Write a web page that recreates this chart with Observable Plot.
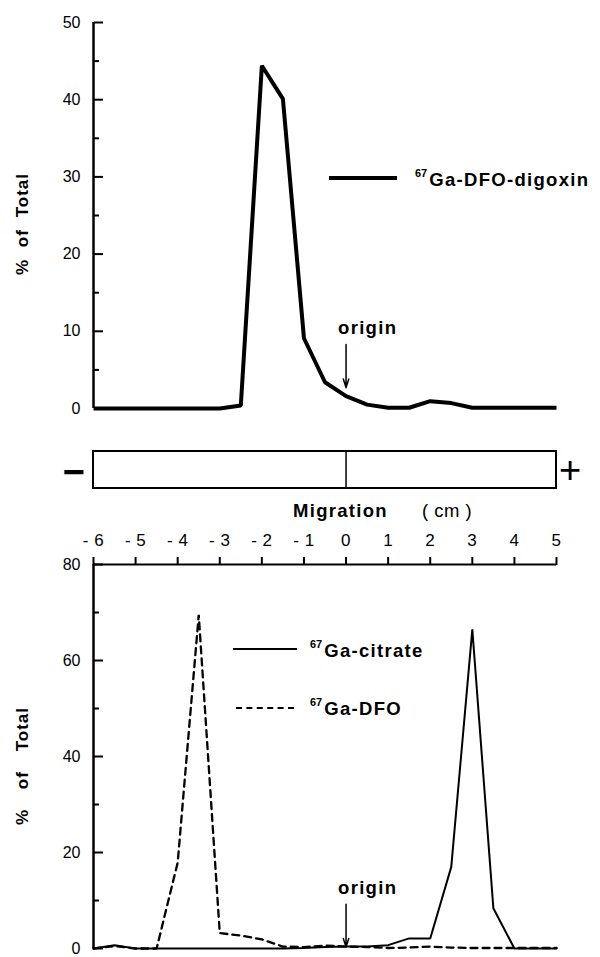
<!DOCTYPE html>
<html><head><meta charset="utf-8">
<script src="https://cdn.jsdelivr.net/npm/d3@7"></script>
<script src="https://cdn.jsdelivr.net/npm/@observablehq/plot@0.6"></script>
<style>
body{margin:0;background:#fff;}
#wrap{position:relative;width:600px;height:957px;overflow:hidden;font-family:"Liberation Sans",Arial,Helvetica,sans-serif;color:#000;background:#fff;}
#wrap svg{display:block;position:absolute;left:0;}
.lbl{position:absolute;white-space:nowrap;line-height:18px;font-size:18.5px;font-weight:bold;letter-spacing:1.3px;}
.lbl sup{font-size:11px;vertical-align:baseline;position:relative;top:-9px;letter-spacing:0;margin-right:2px;}
.rot{position:absolute;white-space:nowrap;font-size:17px;font-weight:bold;line-height:17px;letter-spacing:1px;transform:translate(-50%,-50%) rotate(-90deg);}
g[aria-label="text"] text{letter-spacing:1.3px;}
g[aria-label="x-axis tick label"] text{letter-spacing:0.5px;}
</style></head><body><div id="wrap"></div>
<script>
// Migration distance (cm), sampled every 0.5 cm
const migration = [-6,-5.5,-5,-4.5,-4,-3.5,-3,-2.5,-2,-1.5,-1,-0.5,0,0.5,1,1.5,2,2.5,3,3.5,4,4.5,5];
// % of total activity
const digoxin = [0,0,0,0,0,0,0,0.4,44.4,40.1,9.1,3.4,1.6,0.5,0.1,0.1,0.95,0.7,0.1,0.1,0.1,0.1,0.1];
const citrate = [0,0.7,0,0,0,0,0,0,0,0,0.1,0.3,0.4,0.4,0.7,2.1,2.1,17,66.5,8.4,0,0,0];
const dfo     = [0,0.5,0,0,17.9,69.5,3.2,2.7,1.9,0.4,0.3,0.6,0.4,0.3,0.1,0.2,0.4,0.2,0.1,0.1,0.1,0.1,0.1];

const xTicks = [-6,-5,-4,-3,-2,-1,0,1,2,3,4,5];
const topYMajor = [0,10,20,30,40,50];
const topYMinor = [5,15,25,35,45];
const botYMajor = [0,20,40,60,80];
const botYMinor = [10,30,50,70];

const originTop = [{x: 0, from: 8.3, to: 2.7, labelY: 10.4, label: "origin"}];
const originBot = [{x: 0, from: 9.2, to: 0.3, labelY: 12.5, label: "origin"}];

const digoxinData = migration.map((x, i) => ({x, y: digoxin[i]}));
const citrateData = migration.map((x, i) => ({x, y: citrate[i]}));
const dfoData = migration.map((x, i) => ({x, y: dfo[i]}));
const xMin = xTicks[0], xMax = xTicks[xTicks.length - 1];

const font = {fontFamily: "'Liberation Sans', Arial, Helvetica, sans-serif", fontSize: "16px", background: "white", color: "black"};
const wrap = document.getElementById("wrap");

function yAxes(major, minor) {
  return [
    Plot.ruleX([xMin], {y1: 0, y2: major[major.length - 1], strokeWidth: 2.5}),
    Plot.axisY(major, {anchor: "left", tickSize: 0, tickPadding: 13, fontSize: 16, label: null}),
    Plot.axisY(major, {anchor: "right", frameAnchor: "left", tickSize: 9, strokeWidth: 2, tickFormat: () => "", label: null}),
    Plot.axisY(minor, {anchor: "right", frameAnchor: "left", tickSize: 5, strokeWidth: 2, tickFormat: () => "", label: null})
  ];
}

// top chart
const topPlot = Plot.plot({
  width: 600, height: 445, marginLeft: 93, marginRight: 44, marginTop: 22, marginBottom: 37,
  style: font,
  x: {domain: [xMin, xMax], axis: null},
  y: {domain: [0, 50]},
  marks: [
    ...yAxes(topYMajor, topYMinor),
    Plot.line(digoxinData, {x: "x", y: "y", strokeWidth: 4, strokeLinejoin: "miter", strokeLinecap: "butt"}),
    Plot.arrow(originTop, {x1: "x", x2: "x", y1: "from", y2: "to", headLength: 9, headAngle: 35, strokeWidth: 1.5}),
    Plot.text(originTop, {x: "x", y: "labelY", text: "label", textAnchor: "start", dx: -8, fontWeight: "bold", fontSize: 18.5})
  ]
});
topPlot.style.top = "0px";
wrap.appendChild(topPlot);

// gel strip
const strip = Plot.plot({
  width: 600, height: 50, marginLeft: 93, marginRight: 44, marginTop: 6, marginBottom: 7,
  style: font,
  x: {domain: [xMin, xMax], axis: null},
  marks: [
    Plot.rect([{x1: xMin, x2: xMax}], {x1: "x1", x2: "x2", fill: "none", stroke: "black", strokeWidth: 2}),
    Plot.ruleX([0], {strokeWidth: 1.5}),
    Plot.text(["−"], {frameAnchor: "left", text: d => d, dx: -31, dy: 3, fontSize: 38, fontWeight: "bold"}),
    Plot.text(["+"], {frameAnchor: "right", text: d => d, dx: 26, dy: 1, fontSize: 38})
  ]
});
strip.style.top = "445px";
wrap.appendChild(strip);

// bottom chart
const botPlot = Plot.plot({
  width: 600, height: 462, marginLeft: 93, marginRight: 44, marginTop: 69, marginBottom: 9,
  style: font,
  x: {domain: [xMin, xMax]},
  y: {domain: [0, 80]},
  marks: [
    Plot.ruleY([80], {x1: xMin, x2: xMax, strokeWidth: 2}),
    Plot.axisX(xTicks, {anchor: "top", tickSize: 8, tickPadding: 11, strokeWidth: 2, fontSize: 17, label: null,
      tickFormat: d => d < 0 ? "- " + (-d) : String(d)}),
    ...yAxes(botYMajor, botYMinor),
    Plot.line(citrateData, {x: "x", y: "y", strokeWidth: 2, strokeLinejoin: "miter"}),
    Plot.line(dfoData, {x: "x", y: "y", strokeWidth: 2.3, strokeDasharray: "7,5", strokeLinejoin: "miter"}),
    Plot.arrow(originBot, {x1: "x", x2: "x", y1: "from", y2: "to", headLength: 9, headAngle: 35, strokeWidth: 1.5}),
    Plot.text(originBot, {x: "x", y: "labelY", text: "label", textAnchor: "start", dx: -8, fontWeight: "bold", fontSize: 18.5})
  ]
});
botPlot.style.top = "495px";
wrap.appendChild(botPlot);

// overlay texts & legends
function addHTML(html) { const d = document.createElement("div"); d.innerHTML = html; while (d.firstChild) wrap.appendChild(d.firstChild); }
addHTML(`
<div class="rot" style="left:22px;top:224px;word-spacing:6px;">% of Total</div>
<div class="rot" style="left:22px;top:766px;word-spacing:14px;">% of Total</div>
<div class="lbl" style="left:293px;top:502px;">Migration</div>
<div class="lbl" style="left:422px;top:502px;font-weight:normal;letter-spacing:0.5px;">( cm )</div>
<svg style="left:329px;top:168px" width="70" height="20"><line x1="0" x2="68" y1="10" y2="10" stroke="black" stroke-width="4"/></svg>
<div class="lbl" style="left:415px;top:171px;"><sup>67</sup>Ga-DFO-digoxin</div>
<svg style="left:233px;top:639px" width="70" height="20"><line x1="0" x2="64" y1="10" y2="10" stroke="black" stroke-width="2"/></svg>
<div class="lbl" style="left:310px;top:642px;"><sup>67</sup>Ga-citrate</div>
<svg style="left:236px;top:698px" width="70" height="20"><line x1="0" x2="58" y1="10" y2="10" stroke="black" stroke-width="2" stroke-dasharray="6,4.4"/></svg>
<div class="lbl" style="left:310px;top:700px;"><sup>67</sup>Ga-DFO</div>
`);
</script></body></html>
